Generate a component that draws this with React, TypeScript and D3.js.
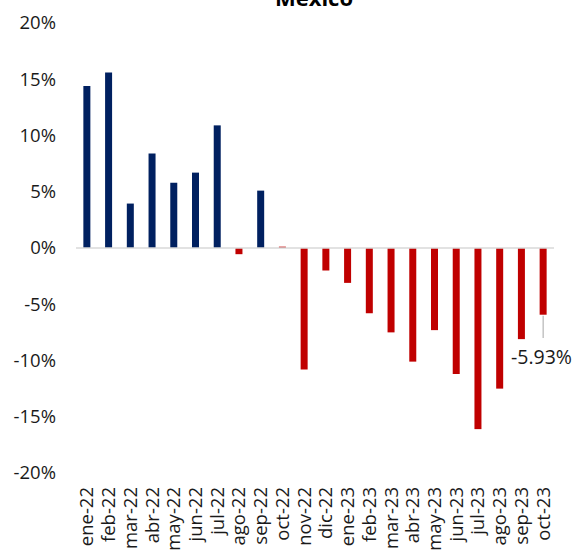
import React from "react";
import * as d3 from "d3";

const width = 576;
const height = 553;
const margin = { top: 23, right: 22, bottom: 80, left: 76 };

const months = [
  "ene-22", "feb-22", "mar-22", "abr-22", "may-22", "jun-22", "jul-22",
  "ago-22", "sep-22", "oct-22", "nov-22", "dic-22", "ene-23", "feb-23",
  "mar-23", "abr-23", "may-23", "jun-23", "jul-23", "ago-23", "sep-23", "oct-23"
];
const values = [
  14.4, 15.6, 3.95, 8.4, 5.8, 6.7, 10.9, -0.55, 5.1, 0.12, -10.8, -2.0,
  -3.1, -5.8, -7.5, -10.1, -7.3, -11.2, -16.1, -12.5, -8.1, -5.93
];
const yTicks = [20, 15, 10, 5, 0, -5, -10, -15, -20];
const lastLabel = "-5.93%";

const font = "'Open Sans', 'Noto Sans', sans-serif";

const App = () => {
  const x = d3
    .scaleBand()
    .domain(months)
    .range([margin.left, width - margin.right])
    .padding(0);
  const y = d3
    .scaleLinear()
    .domain([-20, 20])
    .range([473, margin.top]);

  const barW = 7;
  const last = months[months.length - 1];
  const lastX = (x(last) as number) + x.bandwidth() / 2;

  return (
    <svg width={width} height={height} style={{ position: "absolute", left: 0, top: 0 }}>
      <text x={314} y={6} textAnchor="middle" fontFamily={font} fontWeight="bold" fontSize={22} fill="#000">
        Mexico
      </text>
      {yTicks.map(t => (
        <text
          key={t}
          x={56}
          y={y(t)}
          dy="0.35em"
          textAnchor="end"
          fontFamily={font}
          fontSize={18.5}
          fill="#1a1a1a"
        >
          {t + "%"}
        </text>
      ))}
      {values.map((v, i) => {
        const cx = (x(months[i]) as number) + x.bandwidth() / 2;
        return (
          <rect
            key={i}
            x={cx - barW / 2}
            y={y(Math.max(v, 0))}
            width={barW}
            height={Math.abs(y(v) - y(0))}
            fill={v < 1 ? "#C00000" : "#002060"}
          />
        );
      })}
      <line
        x1={margin.left}
        x2={width - margin.right}
        y1={y(0)}
        y2={y(0)}
        stroke="#D9D9D9"
        strokeWidth={1.5}
      />
      {months.map(m => {
        const cx = (x(m) as number) + x.bandwidth() / 2;
        return (
          <text
            key={m}
            transform={`translate(${cx},487) rotate(-90)`}
            dy="0.35em"
            textAnchor="end"
            fontFamily={font}
            fontSize={18.5}
            fill="#1a1a1a"
          >
            {m}
          </text>
        );
      })}
      <line
        x1={lastX}
        x2={lastX}
        y1={y(values[values.length - 1]) + 1}
        y2={338}
        stroke="#A6A6A6"
        strokeWidth={1}
      />
      <text x={511} y={364} fontFamily={font} fontSize={19.5} fill="#1a1a1a">
        {lastLabel}
      </text>
    </svg>
  );
};

export default App;
